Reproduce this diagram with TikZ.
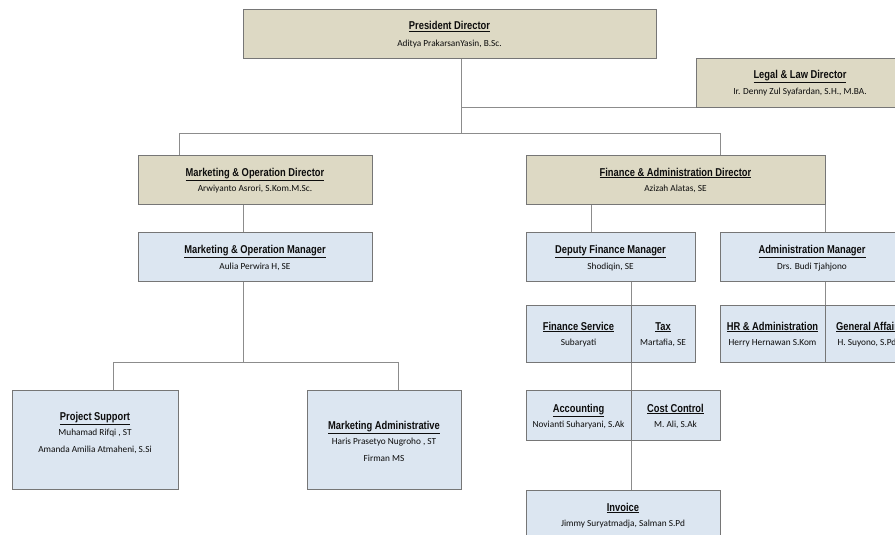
\documentclass[tikz,border=0pt]{standalone}
\usepackage{fontspec}
\usetikzlibrary{backgrounds}
\newfontfamily\titlefont[FakeStretch=0.82]{Liberation Sans}
\newfontfamily\namefont{Carlito}
\definecolor{tanfill}{HTML}{DDD9C4}
\definecolor{bluefill}{HTML}{DCE6F1}
\definecolor{boxline}{HTML}{767676}
\definecolor{conn}{HTML}{8C8C8C}
\definecolor{txt}{HTML}{0D0D0D}
\newcommand\myul[1]{\setbox0\hbox{#1}\leavevmode\vtop{\copy0\kern1.2pt\hrule height 0.9pt width\wd0}}
\begin{document}
\begin{tikzpicture}[x=1pt,y=-1pt,
  box/.style={draw=boxline,line width=0.9pt,inner sep=0pt,anchor=north west},
  dirbox/.style={box,fill=tanfill},
  unitbox/.style={box,fill=bluefill},
  ttl/.style={font=\titlefont\bfseries\fontsize{11.4}{13}\selectfont,text=txt,inner sep=0pt,anchor=base},
  nm/.style={font=\namefont\fontsize{9.3}{11}\selectfont,text=txt,inner sep=0pt,anchor=base},
  link/.style={draw=conn,line width=0.8pt}]
\useasboundingbox (0,0) rectangle (895,535);
\clip (0,0) rectangle (895,535);

% boxes
\node[dirbox,minimum width=413pt,minimum height=49pt] (pres) at (243,9) {};
\node[dirbox,minimum width=208pt,minimum height=49pt] (legal) at (696,58) {};
\node[dirbox,minimum width=234pt,minimum height=49pt] (mkdir) at (138,155) {};
\node[dirbox,minimum width=299pt,minimum height=49pt] (fadir) at (526,155) {};
\node[unitbox,minimum width=234pt,minimum height=49pt] (mkmgr) at (138,232) {};
\node[unitbox,minimum width=169pt,minimum height=49pt] (dfm) at (526,232) {};
\node[unitbox,minimum width=184pt,minimum height=49pt] (adm) at (720,232) {};
\node[unitbox,minimum width=105pt,minimum height=57pt] (fs) at (526,305) {};
\node[unitbox,minimum width=64pt,minimum height=57pt] (tax) at (631,305) {};
\node[unitbox,minimum width=105pt,minimum height=57pt] (hr) at (720,305) {};
\node[unitbox,minimum width=84pt,minimum height=57pt] (ga) at (825,305) {};
\node[unitbox,minimum width=105pt,minimum height=50pt] (acc) at (526,390) {};
\node[unitbox,minimum width=89pt,minimum height=50pt] (cc) at (631,390) {};
\node[unitbox,minimum width=194pt,minimum height=55pt] (inv) at (526,490) {};
\node[unitbox,minimum width=166pt,minimum height=99pt] (ps) at (12,390) {};
\node[unitbox,minimum width=154pt,minimum height=99pt] (ma) at (307,390) {};

% texts
\node[ttl] (presT) at (449.5,30) {\myul{President Director}};
\node[nm] (presN) at (449.5,46.5) {Aditya PrakarsanYasin, B.Sc.};
\node[ttl] (legalT) at (800,78) {\myul{Legal \& Law Director}};
\node[nm] (legalN) at (800,94.5) {Ir. Denny Zul Syafardan, S.H., M.BA.};
\node[ttl] (mkdirT) at (255,176) {\myul{Marketing \& Operation Director}};
\node[nm] (mkdirN) at (255,191.5) {Arwiyanto Asrori, S.Kom.M.Sc.};
\node[ttl] (fadirT) at (675.5,176) {\myul{Finance \& Administration Director}};
\node[nm] (fadirN) at (675.5,191.5) {Azizah Alatas, SE};
\node[ttl] (mkmgrT) at (255,253) {\myul{Marketing \& Operation Manager}};
\node[nm] (mkmgrN) at (255,269.5) {Aulia Perwira H, SE};
\node[ttl] (dfmT) at (610.5,253) {\myul{Deputy Finance Manager}};
\node[nm] (dfmN) at (610.5,269.5) {Shodiqin, SE};
\node[ttl] (admT) at (812,253) {\myul{Administration Manager}};
\node[nm] (admN) at (812,269.5) {Drs. Budi Tjahjono};
\node[ttl] (fsT) at (578.5,330) {\myul{Finance Service}};
\node[nm] (fsN) at (578.5,345.5) {Subaryati};
\node[ttl] (taxT) at (663,330) {\myul{Tax}};
\node[nm] (taxN) at (663,345.5) {Martafia, SE};
\node[ttl] (hrT) at (772.5,330) {\myul{HR \& Administration}};
\node[nm] (hrN) at (772.5,345.5) {Herry Hernawan S.Kom};
\node[ttl] (gaT) at (867,330) {\myul{General Affair}};
\node[nm] (gaN) at (867,345.5) {H. Suyono, S.Pd};
\node[ttl] (accT) at (578.5,412) {\myul{Accounting}};
\node[nm] (accN) at (578.5,427.5) {Novianti Suharyani, S.Ak};
\node[ttl] (ccT) at (675.5,412) {\myul{Cost Control}};
\node[nm] (ccN) at (675.5,427.5) {M. Ali, S.Ak};
\node[ttl] (invT) at (623,511) {\myul{Invoice}};
\node[nm] (invN) at (623,526.5) {Jimmy Suryatmadja, Salman S.Pd};
\node[ttl] (psT) at (95,420) {\myul{Project Support}};
\node[nm] (psN1) at (95,435.5) {Muhamad Rifqi , ST};
\node[nm] (psN2) at (95,452.5) {Amanda Amilia Atmaheni, S.Si};
\node[ttl] (maT) at (384,429) {\myul{Marketing Administrative}};
\node[nm] (maN1) at (384,444.5) {Haris Prasetyo Nugroho , ST};
\node[nm] (maN2) at (384,461.5) {Firman MS};

% junction coordinates
\coordinate (j0) at (461,133);
\coordinate (jL) at (179,133);
\coordinate (jR) at (720,133);
\coordinate (jm) at (243,362);
\coordinate (jmL) at (113,362);
\coordinate (jmR) at (398,362);
\coordinate (jf) at (591,204);
\coordinate (ja) at (825,204);
\coordinate (jd) at (631,281);

\begin{pgfonlayer}{background}
\draw[link] (j0 |- pres.south) -- (j0);
\draw[link] (j0 |- legal.south) -- (legal.south west);
\draw[link] (jL) -- (jR);
\draw[link] (jL) -- (jL |- mkdir.north);
\draw[link] (jR) -- (jR |- fadir.north);
\draw[link] (jm |- mkdir.south) -- (jm |- mkmgr.north);
\draw[link] (jm |- mkmgr.south) -- (jm);
\draw[link] (jmL) -- (jmR);
\draw[link] (jmL) -- (jmL |- ps.north);
\draw[link] (jmR) -- (jmR |- ma.north);
\draw[link] (jf) -- (jf |- dfm.north);
\draw[link] (ja) -- (ja |- hr.north);
\draw[link] (jd) -- (jd |- inv.north);
\end{pgfonlayer}
\end{tikzpicture}
\end{document}
